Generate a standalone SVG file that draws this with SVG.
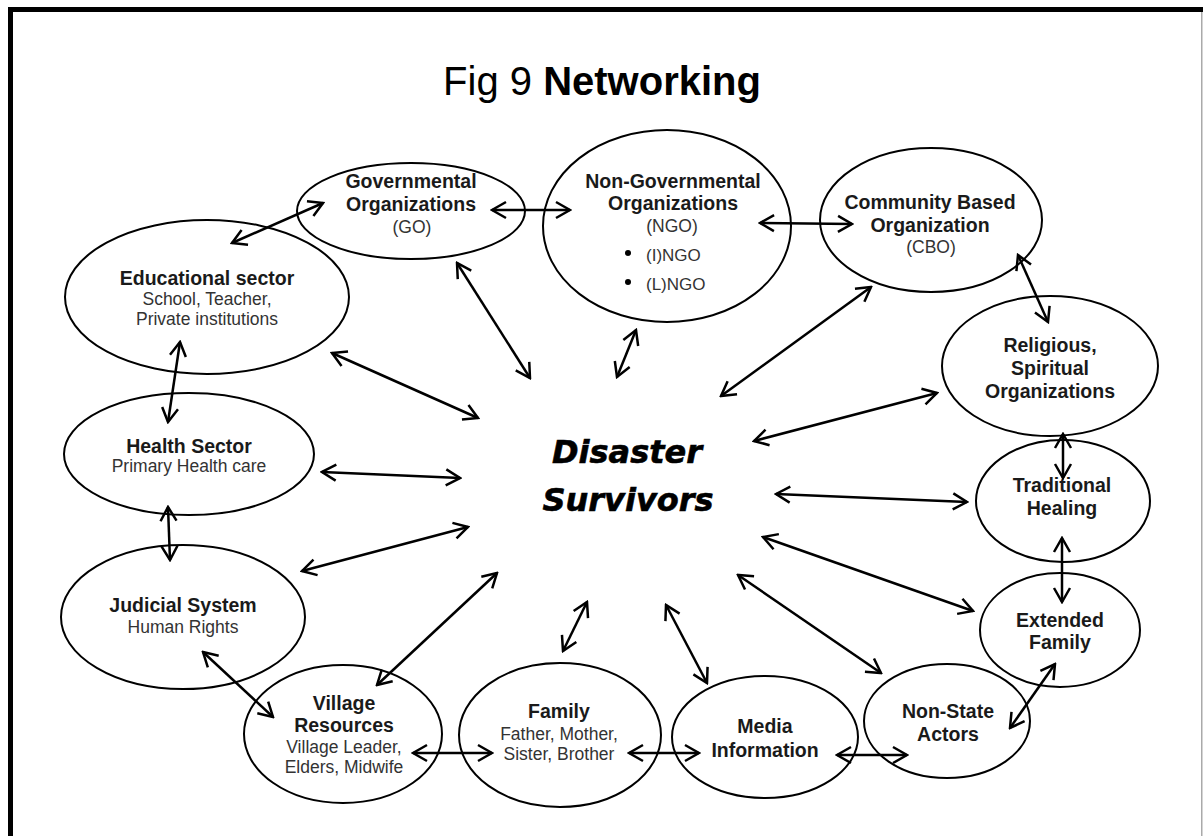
<svg xmlns="http://www.w3.org/2000/svg" width="1203" height="836" viewBox="0 0 1203 836">
<style>
.n{fill:#fff;stroke:#000;stroke-width:2}
.b{font-family:"Liberation Sans",Arial,sans-serif;font-weight:bold;font-size:19.5px;fill:#1a1a1a;text-anchor:middle}
.r{font-family:"Liberation Sans",Arial,sans-serif;font-size:17.5px;fill:#333;text-anchor:middle}
.s{font-family:"Liberation Sans",Arial,sans-serif;font-size:17px;fill:#333}
.c line{stroke:#000;stroke-width:2.5;marker-start:url(#a);marker-end:url(#a)}
</style>
<defs>
<marker id="a" viewBox="-16 -10 18 20" refX="0" refY="0" markerWidth="18" markerHeight="20" markerUnits="userSpaceOnUse" orient="auto-start-reverse">
<path d="M-14,-8 L0,0 L-14,8" fill="none" stroke="#000" stroke-width="2.5"/>
</marker>
</defs>
<rect width="1203" height="836" fill="#fff"/>
<rect x="8" y="7" width="1195" height="5" fill="#000"/>
<rect x="8" y="7" width="5" height="829" fill="#000"/>
<rect x="1201" y="12" width="1.5" height="824" fill="#aaa"/>
<text x="602" y="95" font-family="Liberation Sans,Arial,sans-serif" font-size="40" text-anchor="middle" fill="#000">Fig 9 <tspan font-weight="bold">Networking</tspan></text>

<g id="edu"><ellipse class="n" cx="207" cy="297" rx="142" ry="77"/>
<text class="b" x="207" y="285">Educational sector</text><text class="r" x="207" y="305">School, Teacher,</text><text class="r" x="207" y="325">Private institutions</text></g>
<g id="go"><ellipse class="n" cx="411" cy="211" rx="114" ry="48"/>
<text class="b" x="411" y="188">Governmental</text><text class="b" x="411" y="211">Organizations</text><text class="r" x="412" y="233" font-size="17">(GO)</text></g>
<g id="ngo"><ellipse class="n" cx="667" cy="226" rx="124" ry="96"/>
<text class="b" x="673" y="188">Non-Governmental</text><text class="b" x="673" y="210">Organizations</text><text class="r" x="672" y="232" font-size="17">(NGO)</text>
<circle cx="628" cy="253" r="3" fill="#000"/><circle cx="628" cy="282" r="3" fill="#000"/>
<text class="s" x="646" y="261">(I)NGO</text><text class="s" x="646" y="290">(L)NGO</text></g>
<g id="cbo"><ellipse class="n" cx="931" cy="220" rx="111" ry="72"/>
<text class="b" x="930" y="209">Community Based</text><text class="b" x="930" y="232">Organization</text><text class="r" x="931" y="253" font-size="16">(CBO)</text></g>
<g id="rel"><ellipse class="n" cx="1050" cy="366" rx="108" ry="70"/>
<text class="b" x="1050" y="352">Religious,</text><text class="b" x="1050" y="375">Spiritual</text><text class="b" x="1050" y="398">Organizations</text></g>
<g id="trad"><ellipse class="n" cx="1063" cy="501" rx="87" ry="61"/>
<text class="b" x="1062" y="492">Traditional</text><text class="b" x="1062" y="515">Healing</text></g>
<g id="ext"><ellipse class="n" cx="1060" cy="630" rx="80" ry="57"/>
<text class="b" x="1060" y="627">Extended</text><text class="b" x="1060" y="649">Family</text></g>
<g id="nsa"><ellipse class="n" cx="947" cy="721" rx="83" ry="57"/>
<text class="b" x="948" y="718">Non-State</text><text class="b" x="948" y="741">Actors</text></g>
<g id="media"><ellipse class="n" cx="765" cy="737" rx="93" ry="61"/>
<text class="b" x="765" y="733">Media</text><text class="b" x="765" y="757">Information</text></g>
<g id="family"><ellipse class="n" cx="560" cy="735" rx="101" ry="72"/>
<text class="b" x="559" y="718">Family</text><text class="r" x="559" y="740">Father, Mother,</text><text class="r" x="559" y="760">Sister, Brother</text></g>
<g id="village"><ellipse class="n" cx="343" cy="734" rx="99" ry="69"/>
<text class="b" x="344" y="710">Village</text><text class="b" x="344" y="732">Resources</text><text class="r" x="344" y="753">Village Leader,</text><text class="r" x="344" y="773">Elders, Midwife</text></g>
<g id="judicial"><ellipse class="n" cx="183" cy="617" rx="122" ry="72"/>
<text class="b" x="183" y="612">Judicial System</text><text class="r" x="183" y="633">Human Rights</text></g>
<g id="health"><ellipse class="n" cx="189" cy="454" rx="125" ry="61"/>
<text class="b" x="189" y="453">Health Sector</text><text class="r" x="189" y="472">Primary Health care</text></g>

<g id="center"><text x="627" y="463" font-family="DejaVu Sans,sans-serif" font-weight="bold" font-style="italic" font-size="32" text-anchor="middle" fill="#000" stroke="#000" stroke-width="0.6">Disaster</text>
<text x="628" y="511" font-family="DejaVu Sans,sans-serif" font-weight="bold" font-style="italic" font-size="32" text-anchor="middle" fill="#000" stroke="#000" stroke-width="0.6">Survivors</text></g>

<g id="connectors" class="c">
<line x1="232" y1="243" x2="323" y2="203"/>
<line x1="492" y1="210" x2="570" y2="210"/>
<line x1="760" y1="223" x2="852" y2="224"/>
<line x1="1018" y1="255" x2="1048" y2="322"/>
<line x1="1063" y1="434" x2="1063" y2="478"/>
<line x1="1062" y1="538" x2="1062" y2="602"/>
<line x1="1055" y1="664" x2="1010" y2="728"/>
<line x1="837" y1="755" x2="907" y2="755"/>
<line x1="629" y1="753" x2="699" y2="753"/>
<line x1="413" y1="753" x2="492" y2="753"/>
<line x1="203" y1="652" x2="273" y2="717"/>
<line x1="168" y1="507" x2="170" y2="560"/>
<line x1="180" y1="342" x2="168" y2="422"/>
<line x1="332" y1="353" x2="478" y2="418"/>
<line x1="457" y1="263" x2="530" y2="378"/>
<line x1="636" y1="330" x2="617" y2="377"/>
<line x1="871" y1="287" x2="721" y2="396"/>
<line x1="937" y1="393" x2="754" y2="441"/>
<line x1="776" y1="494" x2="967" y2="502"/>
<line x1="763" y1="537" x2="973" y2="611"/>
<line x1="738" y1="575" x2="881" y2="673"/>
<line x1="666" y1="605" x2="707" y2="683"/>
<line x1="587" y1="602" x2="563" y2="651"/>
<line x1="497" y1="573" x2="377" y2="685"/>
<line x1="468" y1="527" x2="302" y2="571"/>
<line x1="460" y1="478" x2="322" y2="472"/>
</g>
</svg>
